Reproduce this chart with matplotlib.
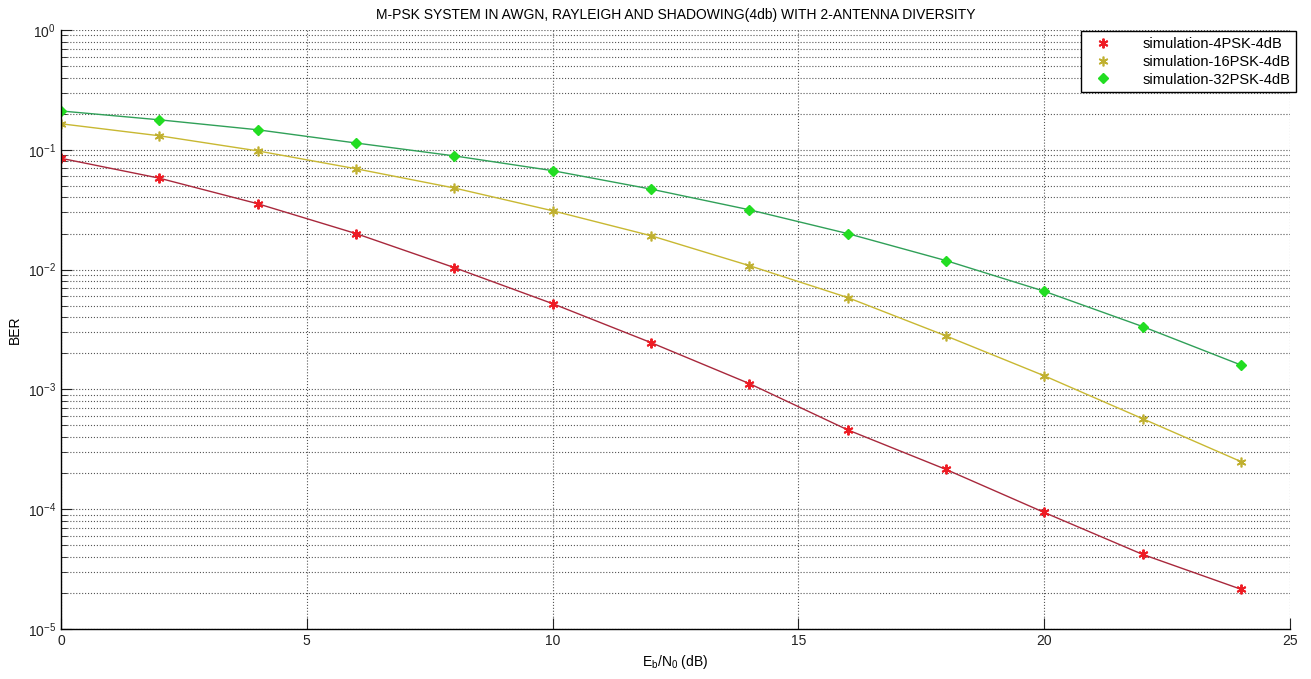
import matplotlib
matplotlib.use("Agg")
import matplotlib.pyplot as plt
import numpy as np
from matplotlib.ticker import LogLocator, MultipleLocator, NullFormatter

plt.rcParams['font.family'] = ['Liberation Sans', 'DejaVu Sans']
plt.rcParams['mathtext.fontset'] = 'custom'
plt.rcParams['mathtext.rm'] = 'Liberation Sans'
plt.rcParams['mathtext.it'] = 'Liberation Sans'

# Eb/N0 points (dB)
ebn0 = [0, 2, 4, 6, 8, 10, 12, 14, 16, 18, 20, 22, 24]

# BER
ber_4psk = [0.085, 0.058, 0.0355, 0.020, 0.0104, 0.0052, 0.00246, 0.00112,
            4.6e-4, 2.15e-4, 9.4e-5, 4.2e-5, 2.15e-5]
ber_16psk = [0.165, 0.131, 0.098, 0.0695, 0.048, 0.031, 0.0192, 0.0108,
             0.00585, 0.0028, 0.0013, 5.7e-4, 2.5e-4]
ber_32psk = [0.211, 0.178, 0.147, 0.114, 0.089, 0.067, 0.047, 0.0316,
             0.020, 0.0119, 0.0066, 0.00335, 0.0016]

labels = ["simulation-4PSK-4dB", "simulation-16PSK-4dB", "simulation-32PSK-4dB"]

fig = plt.figure(figsize=(13.11, 6.79), dpi=100)
ax = fig.add_axes([0.0465, 0.0736, 0.9375, 0.8822])

asterisk = (6, 2, 0)
# connecting lines
ax.semilogy(ebn0, ber_4psk, color='#a8283c', lw=1.0)
ax.semilogy(ebn0, ber_16psk, color='#c8b832', lw=1.0)
ax.semilogy(ebn0, ber_32psk, color='#30a058', lw=1.0)
# simulation markers
ax.semilogy(ebn0, ber_4psk, ls='none', marker=asterisk, ms=7, mew=1.4,
            color='#ee1c24', label=labels[0])
ax.semilogy(ebn0, ber_16psk, ls='none', marker=asterisk, ms=7, mew=1.2,
            color='#c0b030', label=labels[1])
ax.semilogy(ebn0, ber_32psk, ls='none', marker='D', ms=5.5,
            color='#22dd22', label=labels[2])

ax.set_xlim(0, 25)
ax.set_ylim(1e-5, 1)
ax.xaxis.set_major_locator(MultipleLocator(5))
ax.yaxis.set_major_locator(LogLocator(base=10, numticks=10))
ax.yaxis.set_minor_locator(LogLocator(base=10, subs=np.arange(2, 10), numticks=20))
ax.yaxis.set_minor_formatter(NullFormatter())

ax.grid(True, which='major', axis='x', ls=':', color='#555555', lw=0.8)
ax.grid(True, which='both', axis='y', ls=':', color='#555555', lw=0.8)

for s in ['top', 'right']:
    ax.spines[s].set_visible(False)
for s in ['left', 'bottom']:
    ax.spines[s].set_linewidth(1.0)
ax.tick_params(which='both', direction='in', labelsize=10, colors='#222222')
ax.tick_params(which='major', length=8)
ax.tick_params(which='minor', length=4)

ax.set_title("M-PSK SYSTEM IN AWGN, RAYLEIGH AND SHADOWING(4db) WITH 2-ANTENNA DIVERSITY",
             fontsize=10, pad=8)
ax.set_xlabel(r"E$_{\mathrm{b}}$/N$_{\mathrm{0}}$ (dB)", fontsize=10, labelpad=4)
ax.set_ylabel("BER", fontsize=10, labelpad=4)

leg = ax.legend(loc='upper right', bbox_to_anchor=(1.006, 1.0), fontsize=10.5,
                fancybox=False, framealpha=1, edgecolor='black',
                borderaxespad=0.1, handletextpad=1.6, handlelength=2.2,
                borderpad=0.4, labelspacing=0.25)
leg.get_frame().set_linewidth(1.0)

fig.savefig("out.png", dpi=100)
